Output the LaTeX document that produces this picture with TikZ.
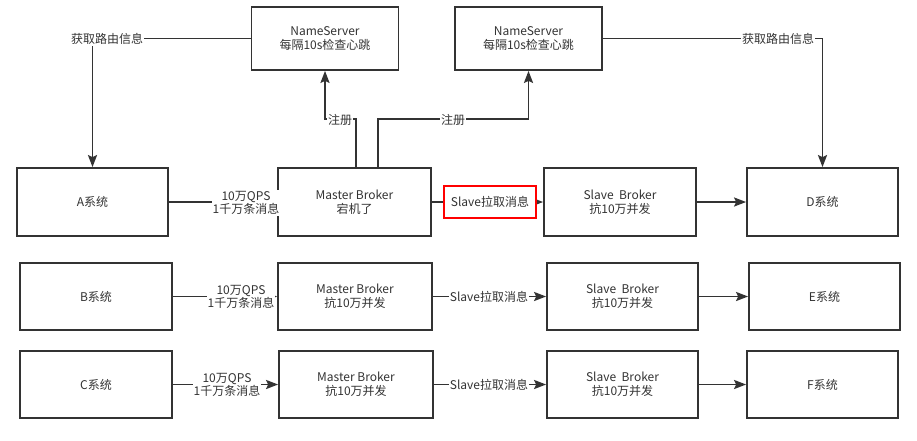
\documentclass[tikz,border=0pt]{standalone}
\usepackage{fontspec}
\setmainfont{Noto Sans CJK SC}
\usetikzlibrary{arrows.meta}
\definecolor{ink}{HTML}{333333}
\begin{document}
\begin{tikzpicture}[x=1pt,y=-1pt,
  box/.style={draw=ink, line width=1.8pt, text=ink, align=center, inner sep=0pt,
    font=\fontsize{12}{14}\selectfont},
  bw/.style={minimum width=151pt, minimum height=68pt},
  nsw/.style={minimum width=147pt, minimum height=63pt},
  conn/.style={draw=ink, line width=1.8pt},
  arr/.style={conn, -{Stealth[length=12pt,width=9pt,inset=2pt]}},
  lbl/.style={fill=white, text=ink, align=center, inner sep=1pt,
    font=\fontsize{12}{13.5}\selectfont},
  hl/.style={lbl, draw=red, line width=1.8pt, minimum width=92pt, minimum height=32pt, inner sep=0pt}
]
\useasboundingbox[fill=white] (0,0) rectangle (917,440);

% boxes
\node[box,nsw] (ns1) at (325,38.5) {NameServer\\每隔10s检查心跳};
\node[box,nsw] (ns2) at (528.5,38.5) {NameServer\\每隔10s检查心跳};

\node[box,bw] (a)  at (92.5,202) {A系统};
\node[box,bw,minimum width=153pt] (m1) at (354.5,202) {Master Broker\\宕机了};
\node[box,bw,minimum width=152pt] (s1) at (620,202) {Slave\ \ Broker\\抗10万并发};
\node[box,bw] (d)  at (822.5,202) {D系统};

\node[box,bw,minimum width=152pt,minimum height=67pt] (b)  at (96,296.5) {B系统};
\node[box,bw,minimum width=154pt,minimum height=67pt] (m2) at (355,296.5) {Master Broker\\抗10万并发};
\node[box,bw,minimum height=67pt] (s2) at (622.5,296.5) {Slave\ \ Broker\\抗10万并发};
\node[box,bw,minimum height=67pt] (e)  at (824.5,296.5) {E系统};

\node[box,bw,minimum width=152pt,minimum height=67pt] (c)  at (96,384.5) {C系统};
\node[box,bw,minimum width=154pt,minimum height=67pt] (m3) at (356,384.5) {Master Broker\\抗10万并发};
\node[box,bw,minimum height=67pt] (s3) at (622.5,384.5) {Slave\ \ Broker\\抗10万并发};
\node[box,bw,minimum height=67pt] (f)  at (822.5,384.5) {F系统};

% routing info
\draw[arr] (ns1.west) -| (a.north);
\node[lbl] (la) at (107,39) {获取路由信息};
\draw[arr] (ns2.east) -| (d.north);
\node[lbl] (ld) at (778,39) {获取路由信息};

% register
\draw[arr] ([xshift=1.5pt]m1.north) -- ++(0,-48) -| (ns1.south);
\node[lbl] (r1) at (340,120) {注册};
\draw[arr] ([xshift=23.5pt]m1.north) -- ++(0,-48) -| (ns2.south);
\node[lbl] (r2) at (453,120) {注册};

% producers
\draw[arr] (a) -- (m1);
\node[lbl] (q1) at (246,203) {10万QPS\\1千万条消息};
\draw[arr] (b) -- (m2);
\node[lbl] (q2) at (241,297) {10万QPS\\1千万条消息};
\draw[arr] (c) -- (m3);
\node[lbl] (q3) at (227,385) {10万QPS\\1千万条消息};

% pulls
\draw[arr] (m1) -- (s1);
\node[hl] (p1) at (490,202) {Slave拉取消息};
\draw[arr] (m2) -- (s2);
\node[lbl] (p2) at (489,297) {Slave拉取消息};
\draw[arr] (m3) -- (s3);
\node[lbl] (p3) at (489,385) {Slave拉取消息};

% consumers
\draw[arr] (s1) -- (d);
\draw[arr] (s2) -- (e);
\draw[arr] (s3) -- (f);
\end{tikzpicture}
\end{document}
